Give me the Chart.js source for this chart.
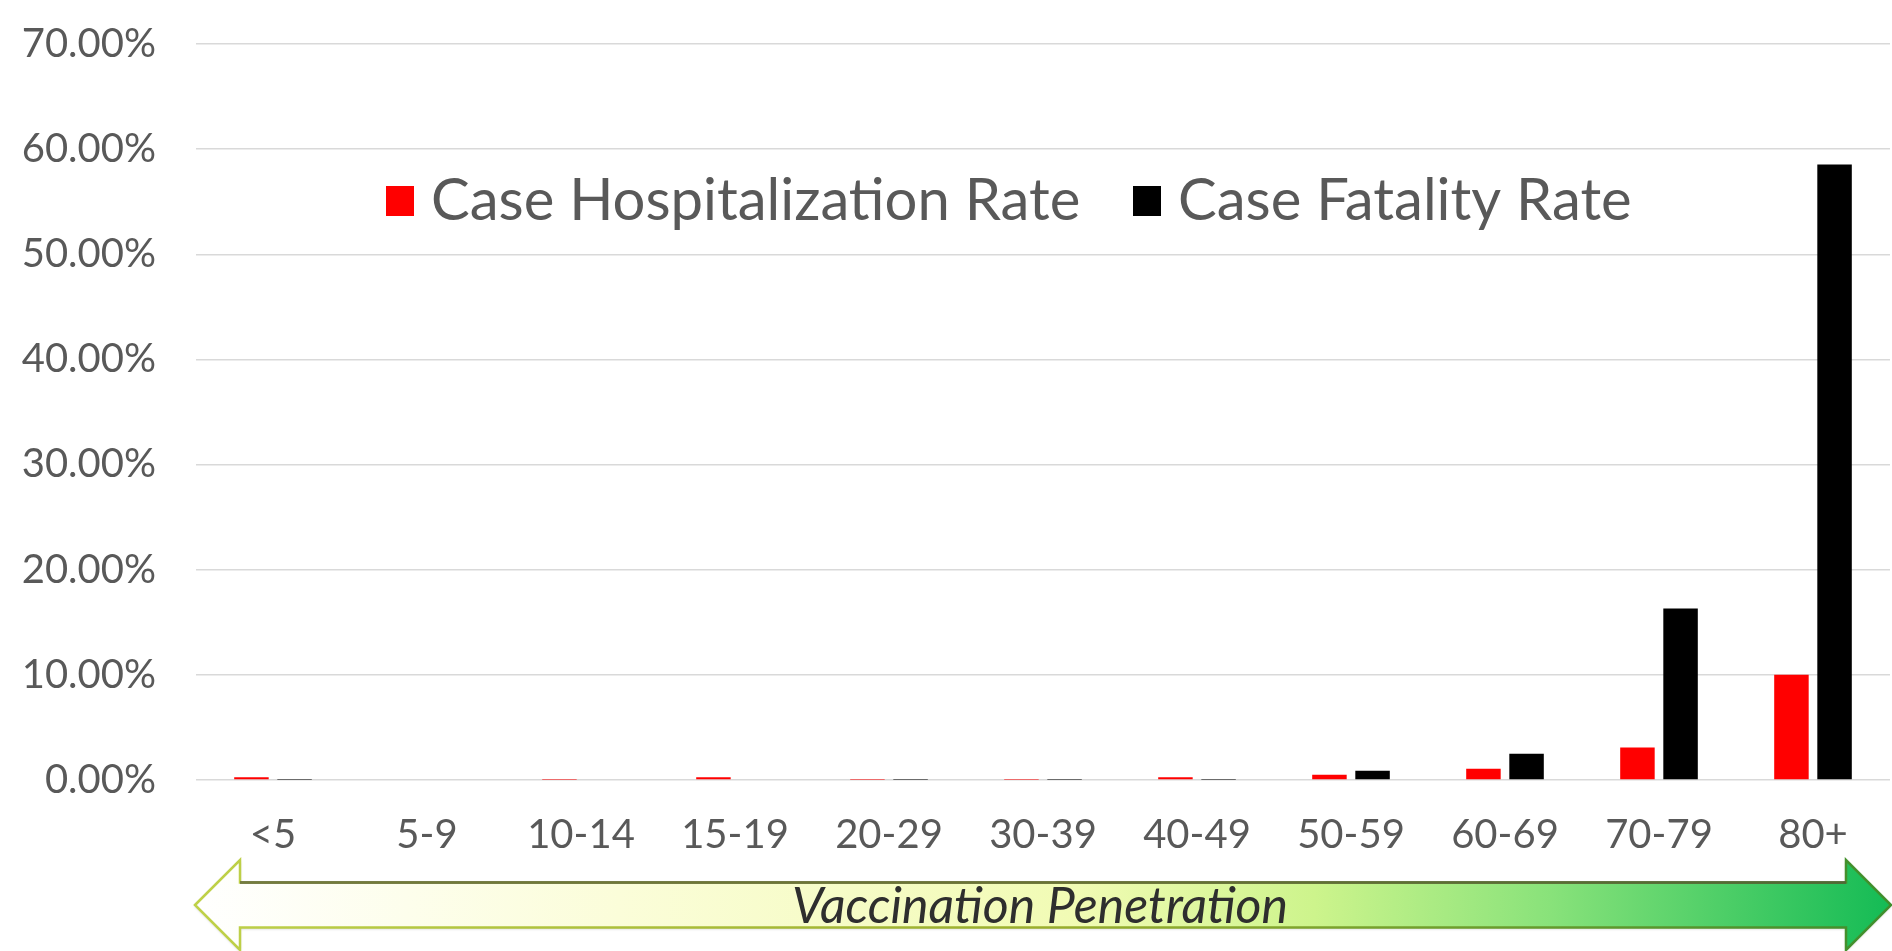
<!DOCTYPE html>
<html lang="en">
<head>
<meta charset="UTF-8">
<title>Case Hospitalization and Fatality Rate by Age</title>
<script src="https://cdn.jsdelivr.net/npm/chart.js@4.4.1/dist/chart.umd.min.js"></script>
<style>
  html, body { margin:0; padding:0; background:#fff; overflow:hidden; }
  #wrap { width:1892px; height:951px; }
</style>
</head>
<body>
<div id="wrap"><canvas id="rateChart" width="1892" height="951"></canvas></div>
<script>
const ageGroups = ['<5','5-9','10-14','15-19','20-29','30-39','40-49','50-59','60-69','70-79','80+'];
const hospitalizationRate = [0.25, 0, 0.02, 0.25, 0.03, 0.03, 0.27, 0.5, 1.08, 3.1, 10.0];
const fatalityRate = [0.03, 0, 0, 0, 0.03, 0.03, 0.03, 0.88, 2.5, 16.3, 58.55];
const yTicks = [0, 10, 20, 30, 40, 50, 60, 70];
const arrowText = 'Vaccination Penetration';

const FONT = 'Lato, "DejaVu Sans", sans-serif';
const GREY = '#595959';

// legend sits inside the plot, under the top gridlines
const insideLegend = {
  id: 'insideLegend',
  afterDraw(chart, args, o) {
    const ctx = chart.ctx;
    ctx.save();
    ctx.font = o.fontSize + 'px ' + FONT;
    ctx.textBaseline = 'middle';
    chart.data.datasets.forEach((ds, i) => {
      const x = o.xs[i];
      ctx.fillStyle = ds.backgroundColor;
      ctx.fillRect(x, o.y - o.boxH / 2, o.boxW, o.boxH);
      ctx.fillStyle = GREY;
      ctx.fillText(ds.label, x + o.boxW + o.textGap, o.y);
    });
    ctx.restore();
  }
};

// double-headed arrow below the age labels
const penetrationArrow = {
  id: 'penetrationArrow',
  afterDraw(chart, args, o) {
    const ctx = chart.ctx;
    const x0 = o.left, x1 = o.right, cy = o.y;
    const sh = o.shaft / 2, hh = o.head / 2, hl = o.headLen;
    ctx.save();
    ctx.beginPath();
    ctx.moveTo(x0, cy);
    ctx.lineTo(x0 + hl, cy - hh);
    ctx.lineTo(x0 + hl, cy - sh);
    ctx.lineTo(x1 - hl, cy - sh);
    ctx.lineTo(x1 - hl, cy - hh);
    ctx.lineTo(x1, cy);
    ctx.lineTo(x1 - hl, cy + hh);
    ctx.lineTo(x1 - hl, cy + sh);
    ctx.lineTo(x0 + hl, cy + sh);
    ctx.lineTo(x0 + hl, cy + hh);
    ctx.closePath();
    const fill = ctx.createLinearGradient(x0, 0, x1, 0);
    fill.addColorStop(0, '#ffffff');
    fill.addColorStop(0.25, '#fbfdd9');
    fill.addColorStop(0.52, '#f1fbb4');
    fill.addColorStop(0.66, '#cdf48c');
    fill.addColorStop(0.8, '#88e27a');
    fill.addColorStop(1, '#14bb55');
    ctx.fillStyle = fill;
    ctx.shadowColor = 'rgba(0,0,0,0.25)';
    ctx.shadowBlur = 3;
    ctx.shadowOffsetY = 1;
    ctx.fill();
    ctx.shadowColor = 'transparent';
    const edge = ctx.createLinearGradient(x0, 0, x1, 0);
    edge.addColorStop(0, '#bfd148');
    edge.addColorStop(0.5, '#9aae2c');
    edge.addColorStop(1, '#3f8e2c');
    ctx.strokeStyle = edge;
    ctx.lineWidth = 2.5;
    ctx.stroke();
    // darker shading along the top of the shaft
    ctx.beginPath();
    ctx.moveTo(x0 + hl, cy - sh);
    ctx.lineTo(x1 - hl, cy - sh);
    ctx.strokeStyle = 'rgba(85,90,55,0.7)';
    ctx.lineWidth = 3;
    ctx.stroke();

    ctx.font = 'italic ' + o.fontSize + 'px ' + FONT;
    ctx.fillStyle = '#2e2e2e';
    ctx.textAlign = 'center';
    ctx.textBaseline = 'middle';
    ctx.fillText(o.text, o.textX, cy + 2, o.textW);
    ctx.restore();
  }
};

new Chart(document.getElementById('rateChart'), {
  type: 'bar',
  data: {
    labels: ageGroups,
    datasets: [
      { label: 'Case Hospitalization Rate', data: hospitalizationRate, backgroundColor: '#ff0000' },
      { label: 'Case Fatality Rate', data: fatalityRate, backgroundColor: '#000000' }
    ]
  },
  options: {
    responsive: false,
    animation: false,
    devicePixelRatio: 1,
    datasets: { bar: { categoryPercentage: 0.56, barPercentage: 0.8 } },
    layout: { padding: { top: 44, right: 2, left: 0, bottom: 0 } },
    plugins: {
      legend: { display: false },
      tooltip: { enabled: false },
      insideLegend: { xs: [386, 1133], y: 201, boxW: 28, boxH: 30, textGap: 17, fontSize: 58 },
      penetrationArrow: {
        left: 195, right: 1891, y: 905, shaft: 45, head: 90, headLen: 45,
        text: arrowText, textX: 1040, textW: 513, fontSize: 50
      }
    },
    scales: {
      x: {
        grid: { display: false },
        border: { display: false },
        ticks: { color: GREY, font: { family: FONT, size: 40 }, padding: 23, maxRotation: 0, autoSkip: false },
        afterFit(s) { s.height = 171; }
      },
      y: {
        min: 0,
        max: 70,
        afterBuildTicks(s) { s.ticks = yTicks.map(v => ({ value: v })); },
        grid: { color: '#d9d9d9', lineWidth: 1.5, drawTicks: false },
        border: { display: false },
        ticks: { color: GREY, font: { family: FONT, size: 40 }, padding: 40, callback: v => v.toFixed(2) + '%' },
        afterFit(s) {
          s.width = 196;
          // the top label may overhang; layout padding already leaves room for it
          s.paddingTop = 0;
          s.paddingBottom = 0;
        }
      }
    }
  },
  plugins: [insideLegend, penetrationArrow]
});
</script>
</body>
</html>
